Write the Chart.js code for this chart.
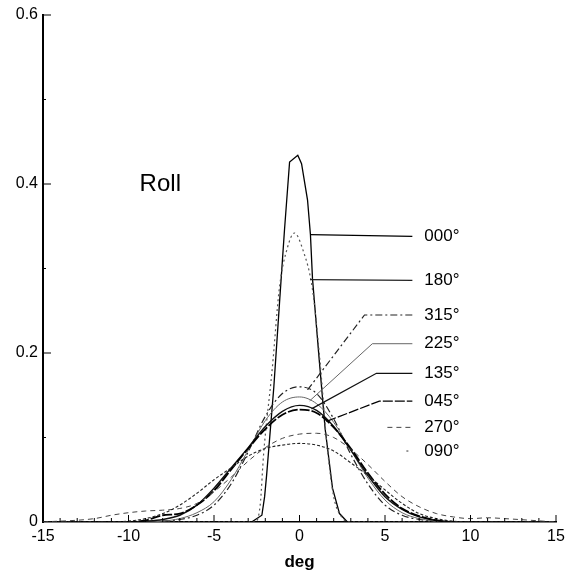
<!DOCTYPE html>
<html lang="en">
<head>
<meta charset="UTF-8">
<title>Roll</title>
<script src="https://cdn.jsdelivr.net/npm/chart.js"></script>
<style>
  html, body { margin: 0; padding: 0; background: #fff; }
  canvas { display: block; }
</style>
</head>
<body>
<canvas id="rollChart" width="571" height="581"></canvas>
<script>
// heading labels, one per curve
const headings = ['000°', '180°', '315°', '225°', '135°', '045°', '270°', '090°'];

// axis ticks
const xTicks = [-15, -10, -5, 0, 5, 10, 15];
const yTicks = [0, 0.2, 0.4, 0.6];

// narrow peaks
const x000 = [-15, -2.8, -2.2, -2.04, -1.92, -1.5, -1.17, -0.88, -0.58, -0.1, 0.12, 0.47, 0.64, 0.76, 1.17, 1.5, 1.93, 2.34, 2.8, 15];
const y000 = [0, 0, 0.008, 0.03, 0.056, 0.16, 0.259, 0.345, 0.426, 0.434, 0.424, 0.381, 0.34, 0.288, 0.188, 0.11, 0.04, 0.01, 0, 0];

const x180 = [-15, -2.6, -2.3, -2.1, -1.6, -1.17, -0.7, -0.3, 0.2, 0.76, 1.2, 1.6, 2.0, 2.5, 3.0, 15];
const y180 = [0, 0, 0.02, 0.08, 0.18, 0.278, 0.325, 0.342, 0.322, 0.275, 0.19, 0.093, 0.03, 0.005, 0, 0];

// broad curves share one x grid
const xBroad = [-15, -12, -11, -10, -9, -8, -7, -6, -5, -4, -3, -2, -1, 0, 1, 2, 3, 4, 5, 6, 7, 8, 9, 10, 11, 12, 15];
const y315 = [0, 0, 0, 0, 0, 0.001, 0.003, 0.008, 0.02, 0.045, 0.083, 0.125, 0.152, 0.16, 0.152, 0.122, 0.08, 0.045, 0.02, 0.008, 0.003, 0.001, 0, 0, 0, 0, 0];
const y225 = [0, 0, 0, 0, 0, 0.001, 0.004, 0.011, 0.024, 0.05, 0.085, 0.12, 0.142, 0.148, 0.14, 0.118, 0.085, 0.052, 0.026, 0.011, 0.004, 0.001, 0, 0, 0, 0, 0];
const y135 = [0, 0, 0, 0, 0.001, 0.003, 0.008, 0.02, 0.04, 0.064, 0.088, 0.113, 0.131, 0.138, 0.132, 0.113, 0.085, 0.055, 0.03, 0.015, 0.006, 0.002, 0, 0, 0, 0, 0];
const y045 = [0, 0, 0, 0, 0.002, 0.008, 0.01, 0.02, 0.037, 0.062, 0.087, 0.11, 0.127, 0.133, 0.129, 0.112, 0.087, 0.058, 0.033, 0.016, 0.007, 0.002, 0, 0, 0, 0, 0];
const y270 = [0, 0.004, 0.008, 0.011, 0.013, 0.014, 0.016, 0.022, 0.036, 0.053, 0.072, 0.088, 0.099, 0.104, 0.105, 0.1, 0.086, 0.068, 0.048, 0.03, 0.018, 0.01, 0.006, 0.004, 0.005, 0.004, 0];
const y090 = [0, 0, 0, 0.001, 0.004, 0.01, 0.02, 0.034, 0.05, 0.064, 0.078, 0.087, 0.091, 0.093, 0.091, 0.084, 0.07, 0.055, 0.038, 0.022, 0.01, 0.004, 0.001, 0, 0, 0, 0];

// leader lines (deg / value units): where they leave the curve, the bend, the label row
const leaderFromX = [0.64, 0.62, 0.47, 0.59, 0.7, 1.58, 5.14, 6.25];
const leaderOnCurve = [true, true, true, true, true, true, false, false];
const leaderBendX = [null, null, 3.8, 4.26, 4.5, 4.67, null, null];
const labelY = [0.338, 0.286, 0.245, 0.211, 0.176, 0.143, 0.112, 0.084];
const leaderEndX = 6.6;
const labelX = 7.3;

const FONT = '"Liberation Sans", Arial, sans-serif';

function pts(xs, ys) {
    return xs.map(function (x, i) { return { x: x, y: ys[i] }; });
}

// linear lookup on a series, used to hook the leaders onto the curves
function valueAt(xs, ys, x) {
    for (let i = 1; i < xs.length; i++) {
        if (x <= xs[i]) {
            const t = (x - xs[i - 1]) / (xs[i] - xs[i - 1]);
            return ys[i - 1] + t * (ys[i] - ys[i - 1]);
        }
    }
    return ys[ys.length - 1];
}

// curve style, plus a separate stroke for its leader
const series = [
    { xs: x000, ys: y000, color: '#000', width: 1.3, dash: [], smooth: false, lead: '#000', leadDash: [] },
    { xs: x180, ys: y180, color: '#555', width: 1.2, dash: [2, 3], smooth: true, lead: '#222', leadDash: [] },
    { xs: xBroad, ys: y315, color: '#222', width: 1.2, dash: [7, 3, 2, 3], smooth: true, lead: '#222', leadDash: [7, 3, 2, 3] },
    { xs: xBroad, ys: y225, color: '#666', width: 1, dash: [], smooth: true, lead: '#666', leadDash: [] },
    { xs: xBroad, ys: y135, color: '#111', width: 1.4, dash: [], smooth: true, lead: '#111', leadDash: [] },
    { xs: xBroad, ys: y045, color: '#000', width: 1.8, dash: [10, 2], smooth: true, lead: '#000', leadDash: [10, 2] },
    { xs: xBroad, ys: y270, color: '#444', width: 1, dash: [5, 4], smooth: true, lead: '#444', leadDash: [5, 4] },
    { xs: xBroad, ys: y090, color: '#222', width: 1.1, dash: [3, 2], smooth: true, lead: '#444', leadDash: [2, 4] }
];

// draw order: broad curves underneath, narrow peaks on top
const drawOrder = [7, 6, 5, 4, 3, 2, 1, 0];

const datasets = drawOrder.map(function (k) {
    const s = series[k];
    return {
        label: headings[k],
        data: pts(s.xs, s.ys),
        showLine: true,
        borderColor: s.color,
        borderWidth: s.width,
        borderDash: s.dash,
        pointRadius: 0,
        fill: false,
        tension: 0,
        cubicInterpolationMode: s.smooth ? 'monotone' : 'default'
    };
});

const annotate = {
    id: 'annotate',
    afterDatasetsDraw: function (chart) {
        const ctx = chart.ctx;
        const xs = chart.scales.x;
        const ys = chart.scales.y;
        const px = function (v) { return xs.getPixelForValue(v); };
        const py = function (v) { return ys.getPixelForValue(v); };

        ctx.save();

        // minor ticks pointing into the plot
        ctx.strokeStyle = '#000';
        ctx.lineWidth = 1;
        ctx.setLineDash([]);
        ctx.beginPath();
        for (let d = -14; d <= 15; d++) {
            const len = d % 5 === 0 ? 7 : 4;
            ctx.moveTo(px(d), py(0));
            ctx.lineTo(px(d), py(0) - len);
        }
        for (let v = 1; v <= 6; v++) {
            const len = v % 2 === 0 ? 8 : 3;
            ctx.moveTo(px(-15), py(v / 10));
            ctx.lineTo(px(-15) + len, py(v / 10));
        }
        ctx.stroke();

        // leaders and heading labels
        for (let i = 0; i < headings.length; i++) {
            const s = series[i];
            const startY = leaderOnCurve[i] ? valueAt(s.xs, s.ys, leaderFromX[i]) : labelY[i];
            ctx.strokeStyle = s.lead;
            ctx.lineWidth = Math.min(s.width, 1.3);
            ctx.setLineDash(s.leadDash);
            ctx.beginPath();
            ctx.moveTo(px(leaderFromX[i]), py(startY));
            if (leaderBendX[i] !== null) {
                ctx.lineTo(px(leaderBendX[i]), py(labelY[i]));
            }
            ctx.lineTo(px(leaderEndX), py(labelY[i]));
            ctx.stroke();

            ctx.setLineDash([]);
            ctx.fillStyle = '#000';
            ctx.font = '17px ' + FONT;
            ctx.textAlign = 'left';
            ctx.textBaseline = 'middle';
            ctx.fillText(headings[i], px(labelX), py(labelY[i]));
        }

        ctx.font = '24px ' + FONT;
        ctx.textAlign = 'left';
        ctx.textBaseline = 'middle';
        ctx.fillText('Roll', px(-9.35), py(0.399));

        ctx.restore();
    }
};

const ctx = document.getElementById('rollChart').getContext('2d');

new Chart(ctx, {
    type: 'scatter',
    data: { datasets: datasets },
    options: {
        responsive: false,
        animation: false,
        layout: { padding: { top: 15, right: 15, bottom: 0, left: 0 } },
        plugins: {
            legend: { display: false },
            tooltip: { enabled: false }
        },
        scales: {
            x: {
                type: 'linear',
                min: -15,
                max: 15,
                afterBuildTicks: function (scale) {
                    scale.ticks = xTicks.map(function (v) { return { value: v }; });
                },
                afterFit: function (scale) { scale.height = 59; },
                grid: { drawOnChartArea: false, drawTicks: false },
                border: { display: true, color: '#000', width: 1.5 },
                ticks: {
                    color: '#000',
                    font: { family: FONT, size: 16 },
                    padding: 5,
                    maxRotation: 0,
                    autoSkip: false
                },
                title: {
                    display: true,
                    text: 'deg',
                    color: '#000',
                    font: { family: FONT, size: 17, weight: 'bold' },
                    padding: { top: 0, bottom: 8 }
                }
            },
            y: {
                type: 'linear',
                min: 0,
                max: 0.6,
                afterBuildTicks: function (scale) {
                    scale.ticks = yTicks.map(function (v) { return { value: v }; });
                },
                afterFit: function (scale) { scale.width = 43; },
                grid: { drawOnChartArea: false, drawTicks: false },
                border: { display: true, color: '#000', width: 2 },
                ticks: {
                    color: '#000',
                    font: { family: FONT, size: 16 },
                    padding: 5,
                    callback: function (v) { return v === 0 ? '0' : v.toFixed(1); }
                }
            }
        }
    },
    plugins: [annotate]
});
</script>
</body>
</html>
